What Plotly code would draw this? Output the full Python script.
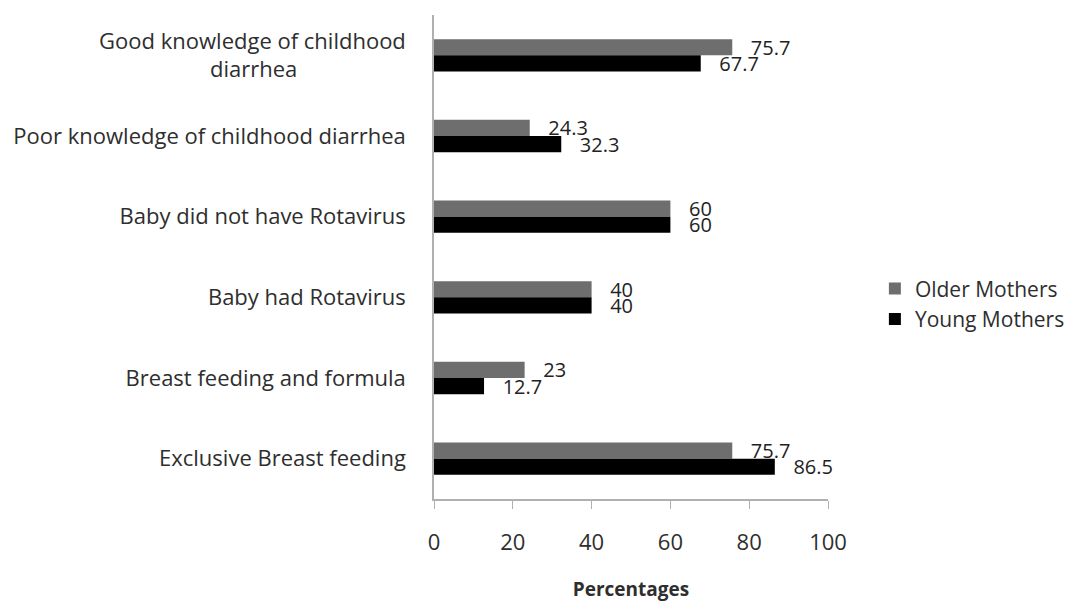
import plotly.graph_objects as go

NB = "\u00a0"

categories = [
    "Good knowledge of childhood<br>diarrhea" + NB * 19,
    "Poor knowledge of childhood diarrhea",
    "Baby did not have Rotavirus",
    "Baby had Rotavirus",
    "Breast feeding and formula",
    "Exclusive Breast feeding",
]
older_mothers = [75.7, 24.3, 60, 40, 23, 75.7]
young_mothers = [67.7, 32.3, 60, 40, 12.7, 86.5]
x_ticks = [0, 20, 40, 60, 80, 100]

FONT = "'Open Sans', Lato, sans-serif"
LABEL_PREFIX = NB * 3
TXT = "#2e2e2e"

fig = go.Figure()
for name, vals, color in [("Older Mothers", older_mothers, "#6e6e6e"),
                          ("Young Mothers", young_mothers, "#000000")]:
    fig.add_trace(go.Bar(
        name=name,
        y=categories,
        x=vals,
        orientation="h",
        marker=dict(color=color, line=dict(width=0)),
        texttemplate=LABEL_PREFIX + "%{x}",
        textposition="outside",
        constraintext="none",
        cliponaxis=False,
        textfont=dict(family=FONT, size=20, color="#222222"),
    ))

fig.update_layout(
    width=1072,
    height=602,
    margin=dict(l=434, r=244, t=15, b=103, autoexpand=False),
    paper_bgcolor="white",
    plot_bgcolor="white",
    barmode="group",
    bargap=0.6,
    bargroupgap=0,
    font=dict(family=FONT, size=22, color=TXT),
    showlegend=True,
    legend=dict(
        x=0.119 + 1, y=0.403, xanchor="left", yanchor="middle",
        traceorder="normal",
        font=dict(family=FONT, size=21, color=TXT),
        itemwidth=30,
        tracegroupgap=6,
    ),
    xaxis=dict(
        range=[0, 100],
        tickvals=x_ticks,
        showgrid=False,
        zeroline=False,
        showline=True,
        linecolor="#b0b0b0",
        linewidth=1.5,
        ticks="outside",
        ticklen=8,
        tickcolor="#b0b0b0",
        tickfont=dict(family=FONT, size=22, color=TXT),
        ticklabelstandoff=15,
        title=dict(text="<b>Percentages</b>", font=dict(family=FONT, size=19, color=TXT), standoff=32),
        automargin=False,
        fixedrange=True,
    ),
    yaxis=dict(
        autorange="reversed",
        showgrid=False,
        zeroline=False,
        showline=True,
        linecolor="#b0b0b0",
        linewidth=1.5,
        ticks="",
        ticklabelstandoff=22,
        tickfont=dict(family=FONT, size=22, color=TXT),
        automargin=False,
        fixedrange=True,
    ),
)

fig.write_html("out.html")
